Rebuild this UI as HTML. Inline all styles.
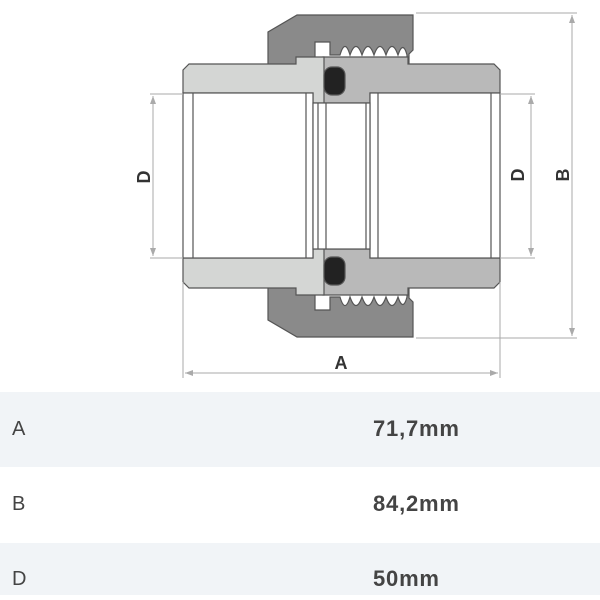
<!DOCTYPE html>
<html><head><style>
html,body{margin:0;padding:0;background:#fff;width:600px;height:600px;overflow:hidden;font-family:"Liberation Sans",sans-serif}
.row{position:absolute;left:0;width:600px;}
.k{position:absolute;left:12px;font-size:20px;color:#444}
.v{position:absolute;left:373px;font-size:22px;font-weight:bold;color:#444;letter-spacing:0.8px}
</style></head><body>
<svg width="600" height="390" style="position:absolute;left:0;top:0" viewBox="0 0 600 390">
<g stroke="#555" stroke-width="1.2">
<path d="M297,15 L413,15 L413,50 L409,54 L409,64 L296,64 L296,74 L268,74 L268,32 Z" fill="#8a8a8a"/>
<path d="M297,337 L413,337 L413,302 L409,298 L409,288 L296,288 L296,278 L268,278 L268,320 Z" fill="#8a8a8a"/>
<path d="M315,42 L330,42 L330,55 L340,55 Q345,38 350,55 Q356,38 362,55 Q368,38 374,55 Q380,38 386,55 Q392,38 398,55 Q403,40 407,55 L407,64 L315,64 Z" fill="#fff"/>
<path d="M315,310 L330,310 L330,297 L340,297 Q345,314 350,297 Q356,314 362,297 Q368,314 374,297 Q380,314 386,297 Q392,314 398,297 Q403,312 407,297 L407,288 L315,288 Z" fill="#fff"/>
<path d="M323,57 L408,57 L408,64 L494,64 L500,70 L500,93 L370,93 L370,103 L323,103 Z" fill="#b9b9b9"/>
<path d="M323,295 L408,295 L408,288 L494,288 L500,282 L500,258 L370,258 L370,249 L323,249 Z" fill="#b9b9b9"/>
<path d="M189,64 L296,64 L296,57 L324,57 L324,103 L313,103 L313,93 L183,93 L183,70 Z" fill="#d4d6d4"/>
<path d="M189,288 L296,288 L296,295 L324,295 L324,249 L313,249 L313,258 L183,258 L183,282 Z" fill="#d4d6d4"/>
<rect x="183" y="93" width="130" height="165" fill="#fff"/>
<rect x="370" y="93" width="130" height="165" fill="#fff"/>
<rect x="313" y="103" width="57" height="146" fill="#fff"/>
<line x1="193" y1="93" x2="193" y2="258"/>
<line x1="306" y1="93" x2="306" y2="258"/>
<line x1="318" y1="103" x2="318" y2="249"/>
<line x1="326" y1="103" x2="326" y2="249"/>
<line x1="366" y1="103" x2="366" y2="249"/>
<line x1="378" y1="93" x2="378" y2="258"/>
<line x1="491" y1="93" x2="491" y2="258"/>
<rect x="324" y="67" width="21" height="28" rx="8" fill="#222"/>
<rect x="324" y="257" width="21" height="28" rx="8" fill="#222"/>
</g>
<g stroke="#aaa" stroke-width="1" fill="none">
<line x1="150" y1="94" x2="183" y2="94"/><line x1="150" y1="258" x2="183" y2="258"/>
<line x1="153" y1="96" x2="153" y2="256"/>
<line x1="500" y1="94" x2="535" y2="94"/><line x1="500" y1="258" x2="535" y2="258"/>
<line x1="531" y1="96" x2="531" y2="256"/>
<line x1="416" y1="13" x2="577" y2="13"/><line x1="416" y1="338" x2="577" y2="338"/>
<line x1="572" y1="15" x2="572" y2="336"/>
<line x1="183" y1="282" x2="183" y2="378"/><line x1="500" y1="282" x2="500" y2="378"/>
<line x1="185" y1="373" x2="498" y2="373"/>
</g>
<g fill="#aaa">
<path d="M153,96 l-3,8 h6z"/><path d="M153,256 l-3,-8 h6z"/>
<path d="M531,96 l-3,8 h6z"/><path d="M531,256 l-3,-8 h6z"/>
<path d="M572,15 l-3,8 h6z"/><path d="M572,336 l-3,-8 h6z"/>
<path d="M185,373 l8,-3 v6z"/><path d="M498,373 l-8,-3 v6z"/>
</g>
<g font-family="Liberation Sans,sans-serif" font-weight="bold" font-size="18" fill="#333" text-anchor="middle">
<text x="341" y="369">A</text>
<text transform="translate(150,177) rotate(-90)">D</text>
<text transform="translate(524,175) rotate(-90)">D</text>
<text transform="translate(569,175) rotate(-90)">B</text>
</g>
</svg>
<div class="row" style="top:392px;height:75px;background:#f1f4f7"><span class="k" style="top:26px">A</span><span class="v" style="top:24px">71,7mm</span></div>
<div class="row" style="top:467px;height:76px;background:#fff"><span class="k" style="top:26px">B</span><span class="v" style="top:24px">84,2mm</span></div>
<div class="row" style="top:543px;height:52px;background:#f1f4f7"><span class="k" style="top:25px">D</span><span class="v" style="top:23px">50mm</span></div>
</body></html>
